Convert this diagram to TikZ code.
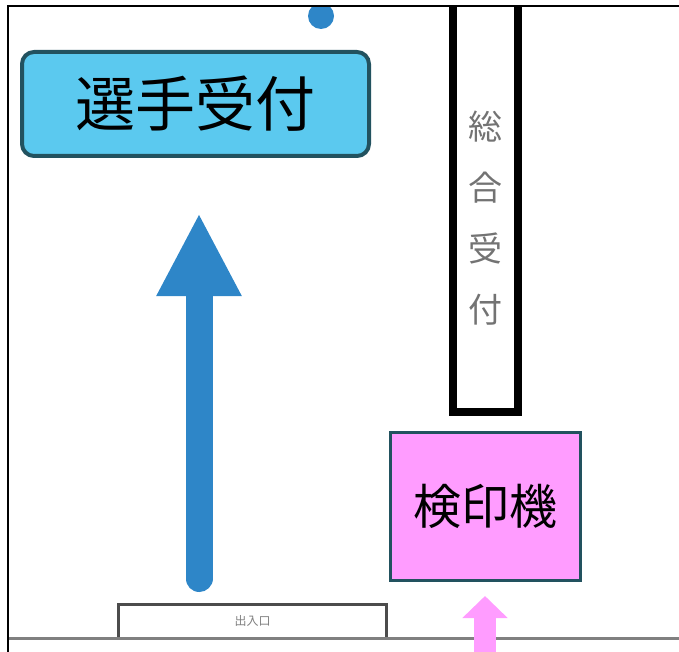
\documentclass[tikz,border=0pt]{standalone}
\usepackage{fontspec}
\usepackage{tikz}
\usetikzlibrary{arrows.meta}
\newfontfamily\cjk{Noto Sans CJK JP}
\definecolor{deskblue}{HTML}{5BC9EF}
\definecolor{deskedge}{HTML}{22525F}
\definecolor{flowblue}{HTML}{2E86C8}
\definecolor{stamppink}{HTML}{FF9CFF}
\newcommand{\jsize}[1]{\cjk\fontsize{#1}{#1}\selectfont}

\begin{document}
\begin{tikzpicture}[
      x=1pt, y=-1pt,
      frameline/.style={line width=2pt, draw=black},
      floorline/.style={line width=3pt, draw=black!50},
      desk/.style={rectangle, rounded corners=12pt, line width=4pt, draw=deskedge, fill=deskblue, minimum width=347pt, minimum height=104pt, inner sep=0pt, font=\jsize{60}},
      stamp/.style={rectangle, line width=3pt, draw=deskedge, fill=stamppink, minimum width=190pt, minimum height=148pt, inner sep=0pt, font=\jsize{48}},
      counter/.style={rectangle, line width=8pt, draw=black, minimum width=65pt, minimum height=440pt, inner sep=0pt},
      doorway/.style={rectangle, line width=2.5pt, draw=black!70, fill=white, minimum width=268pt, minimum height=33.5pt, inner sep=0pt, font=\jsize{12}, text=black!50},
      bluearrow/.style={line width=27pt, line cap=round, draw=flowblue, -{Triangle[width=79pt, length=83pt]}},
      pinkarrow/.style={line width=22pt, draw=stamppink, -{Triangle[width=44pt, length=22pt]}}
      ]
  \useasboundingbox (0,0) rectangle (679,652);
  \begin{scope}
    \clip (8,6) rectangle (679,652);
    \fill[flowblue] (321,16) circle (13pt);
    \node[desk] (reception) at (195.5,104) {\raisebox{6pt}{選手受付}};
    \node[counter] (general) at (485.5,192) {};
    \node[align=center, text=black!55, font=\cjk\fontsize{34}{61}\selectfont] (generaltext) at (485,218) {総\\合\\受\\付};
    \node[stamp] (stamper) at (485,506.5) {\raisebox{4pt}{検印機}};
    \node[doorway] (entrance) at (252.5,621) {出入口};
    \draw[floorline] (8,638) -- (679,638);
    \coordinate (walkstart) at (199,578.5);
    \coordinate (walkend) at (199,213);
    \coordinate (stampfoot) at (485,596);
    \coordinate (stampfrom) at (485,670);
    \draw[bluearrow] (walkstart) -- (walkend);
    \draw[pinkarrow] (stampfrom) -- (stampfoot);
  \end{scope}
  \draw[frameline] (8,652) -- (8,6) -- (679,6);
\end{tikzpicture}
\end{document}
